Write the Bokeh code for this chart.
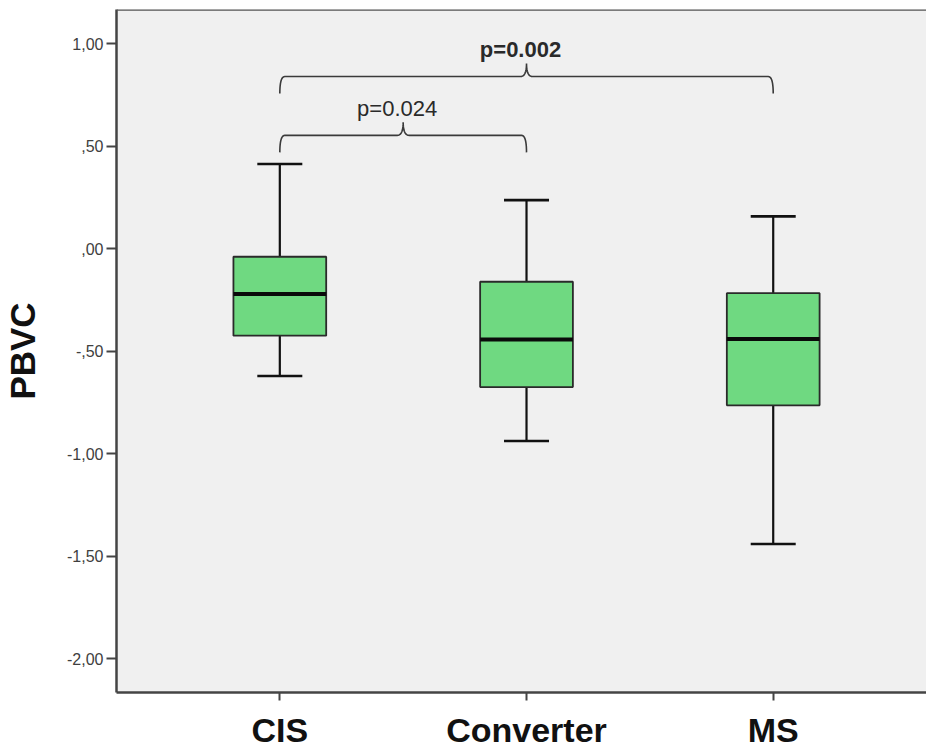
import numpy as np
from bokeh.plotting import figure
from bokeh.models import Range1d, FixedTicker, Span, ColumnDataSource
from bokeh.core.properties import value
from bokeh.embed import file_html
from bokeh.resources import INLINE

FONT = "Liberation Sans"

# ---- data ----
categories = ["CIS", "Converter", "MS"]
whisker_high = [0.413, 0.237, 0.158]
q3 = [-0.039, -0.161, -0.217]
median = [-0.221, -0.443, -0.440]
q1 = [-0.424, -0.675, -0.764]
whisker_low = [-0.621, -0.938, -1.440]

y_ticks = [-2.0, -1.5, -1.0, -0.5, 0.0, 0.5, 1.0]
y_tick_labels = ["-2,00", "-1,50", "-1,00", "-,50", ",00", ",50", "1,00"]

bracket_from = ["CIS", "CIS"]
bracket_to = ["Converter", "MS"]
bracket_level = [0.553, 0.840]
bracket_text = ["p=0.024", "p=0.002"]
bracket_weight = ["normal", "bold"]

# ---- layout ----
W, H = 926, 751
ML, MR, MT, MB = 116, 0, 9, 59
PX_PER_X = 246.7
PX_PER_Y = 205.0
X_START = 0.338
X_END = X_START + (W - ML - MR) / PX_PER_X
Y_END = 1.167
Y_START = Y_END - (H - MT - MB) / PX_PER_Y
BOX_W = 0.376

px_x = 1.0 / PX_PER_X
px_y = 1.0 / PX_PER_Y

p = figure(width=W, height=H, x_range=Range1d(X_START, X_END), y_range=Range1d(Y_START, Y_END),
           output_backend="svg", toolbar_location=None,
           min_border_left=ML, min_border_right=MR, min_border_top=MT, min_border_bottom=MB,
           background_fill_color="#f0f0f0", border_fill_color="white", outline_line_color=None)
p.xgrid.visible = False
p.ygrid.visible = False

xpos = [i + 1 for i in range(len(categories))]
pos = dict(zip(categories, xpos))
src = ColumnDataSource(dict(
    x=xpos, lo=whisker_low, q1=q1, med=median, q3=q3, hi=whisker_high,
    ml=[x - BOX_W / 2 for x in xpos], mr=[x + BOX_W / 2 for x in xpos]))

# whiskers
p.segment(x0="x", y0="q3", x1="x", y1="hi", source=src, line_color="#111111", line_width=2.2)
p.segment(x0="x", y0="lo", x1="x", y1="q1", source=src, line_color="#111111", line_width=2.2)
p.scatter(x="x", y="hi", source=src, marker="dash", size=45, line_color="#111111", line_width=2.6)
p.scatter(x="x", y="lo", source=src, marker="dash", size=45, line_color="#111111", line_width=2.6)
# boxes
p.vbar(x="x", width=BOX_W, top="q3", bottom="q1", source=src,
       fill_color="#6fd981", line_color="#2a2a2a", line_width=1.8)
p.segment(x0="ml", y0="med", x1="mr", y1="med", source=src, line_color="#0a0a0a", line_width=4)

# significance brackets
def quad(p0, c, p1, n=12):
    t = np.linspace(0, 1, n)
    xs = (1 - t) ** 2 * p0[0] + 2 * (1 - t) * t * c[0] + t ** 2 * p1[0]
    ys = (1 - t) ** 2 * p0[1] + 2 * (1 - t) * t * c[1] + t ** 2 * p1[1]
    return list(xs), list(ys)

drop = 17 * px_y
peak = 13 * px_y
r = 5 * px_x
r2 = 6 * px_x
bx, by = [], []
for a, b, h in zip(bracket_from, bracket_to, bracket_level):
    xa, xb = pos[a], pos[b]
    xm = (xa + xb) / 2
    xs, ys = [], []
    for seg in [quad((xa, h - drop), (xa, h), (xa + r, h)),
                quad((xm - r2, h), (xm, h), (xm, h + peak)),
                quad((xm, h + peak), (xm, h), (xm + r2, h)),
                quad((xb - r, h), (xb, h), (xb, h - drop))]:
        xs += seg[0]
        ys += seg[1]
    bx.append(xs)
    by.append(ys)
p.multi_line(xs=bx, ys=by, line_color="#3a3a3a", line_width=1.6)

for a, b, h, t, wgt in zip(bracket_from, bracket_to, bracket_level, bracket_text, bracket_weight):
    xm = (pos[a] + pos[b]) / 2
    p.text(x=[xm], y=[h], text=[t], x_offset=-6, y_offset=-27,
           text_font=value(FONT), text_font_size="22px", text_font_style=wgt,
           text_color="#2a2a2a", text_align="center", text_baseline="alphabetic")

# top frame line
p.add_layout(Span(location=Y_END, dimension="width", line_color="#555555", line_width=2.5))

# axes
p.yaxis.ticker = FixedTicker(ticks=y_ticks)
p.yaxis.major_label_overrides = dict(zip(y_ticks, y_tick_labels))
p.xaxis.ticker = FixedTicker(ticks=xpos)
p.xaxis.major_label_overrides = dict(zip(xpos, categories))

for ax in (p.xaxis[0], p.yaxis[0]):
    ax.axis_line_color = "#444444"
    ax.axis_line_width = 2.5
    ax.major_tick_line_color = "#444444"
    ax.major_tick_line_width = 2
    ax.major_tick_in = 0
    ax.minor_tick_line_color = None

p.yaxis.major_tick_out = 10
p.yaxis.major_label_standoff = 3
p.yaxis.major_label_text_font = FONT
p.yaxis.major_label_text_font_size = "16px"
p.yaxis.major_label_text_color = "#404040"
p.yaxis.axis_label = "PBVC"
p.yaxis.axis_label_text_font = FONT
p.yaxis.axis_label_text_font_size = "35px"
p.yaxis.axis_label_text_font_style = "bold"
p.yaxis.axis_label_text_color = "#111111"
p.yaxis.axis_label_standoff = 22

p.xaxis.major_tick_out = 8
p.xaxis.major_label_standoff = 10
p.xaxis.major_label_text_font = FONT
p.xaxis.major_label_text_font_size = "34px"
p.xaxis.major_label_text_font_style = "bold"
p.xaxis.major_label_text_color = "#111111"

open("out.html", "w").write(file_html(p, INLINE))
